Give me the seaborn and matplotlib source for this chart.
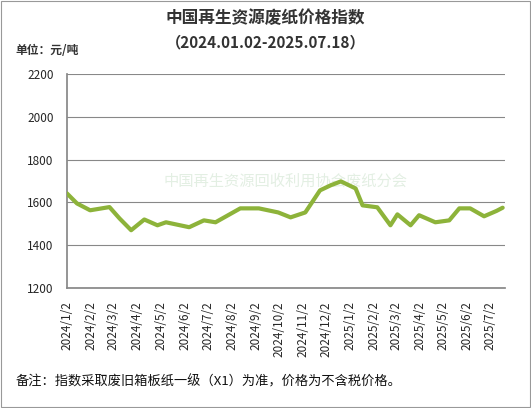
import pandas as pd
import numpy as np
import matplotlib.pyplot as plt
import seaborn as sns

dates = ["2024-01-02", "2024-01-15", "2024-02-01", "2024-02-26", "2024-03-10", "2024-03-25",
         "2024-04-11", "2024-04-28", "2024-05-09", "2024-06-08", "2024-06-27", "2024-07-12",
         "2024-08-13", "2024-09-06", "2024-10-01", "2024-10-17", "2024-11-05", "2024-11-24",
         "2024-12-08", "2024-12-21", "2025-01-09", "2025-01-18", "2025-02-06", "2025-02-23",
         "2025-03-04", "2025-03-21", "2025-04-01", "2025-04-22", "2025-05-10", "2025-05-23",
         "2025-06-06", "2025-06-24", "2025-07-10", "2025-07-18"]
values = [1642, 1595, 1563, 1578, 1525, 1470, 1520, 1493, 1507, 1484, 1516, 1507,
          1572, 1572, 1553, 1530, 1553, 1656, 1680, 1698, 1665, 1586, 1577, 1493,
          1544, 1493, 1540, 1507, 1516, 1572, 1572, 1535, 1560, 1575]
tick_dates = [pd.Timestamp(y, m, 2) for y in (2024, 2025) for m in range(1, 13)][:19]
tick_labels = [f"{d.year}/{d.month}/2" for d in tick_dates]

df = pd.DataFrame({"date": pd.to_datetime(dates), "value": values})

sns.set_theme(style="white")
plt.rcParams['font.family'] = ['Noto Sans CJK SC', 'DejaVu Sans']

fig = plt.figure(figsize=(5.31, 4.08), dpi=100)
ax = fig.add_axes([0.126, 0.294, 0.825, 0.525])
sns.lineplot(data=df, x="date", y="value", ax=ax, color="#8db33a", linewidth=3, zorder=3)

ax.set_ylim(1200, 2200)
ax.set_yticks(range(1200, 2201, 200))
ax.set_xlim(pd.Timestamp("2024-01-02"), pd.Timestamp("2025-07-21"))
ax.set_xticks(tick_dates)
ax.set_xticklabels(tick_labels, rotation=90, fontsize=8.5)
ax.tick_params(axis="y", labelsize=8.5)
ax.set_xlabel("")
ax.set_ylabel("")
ax.grid(axis="y", color="#888888", linewidth=0.8)
for s in ["top", "right"]:
    ax.spines[s].set_visible(False)
for s in ["left", "bottom"]:
    ax.spines[s].set_color("#888888")

# faint watermark behind the line
ax.text(0.5, 0.5, "中国再生资源回收利用协会废纸分会", transform=ax.transAxes,
        ha="center", va="center", fontsize=11, color="#e3efe3", zorder=0)

fig.text(0.5, 0.955, "中国再生资源废纸价格指数", ha="center", va="center",
         fontsize=12, fontweight="bold", color="#333333")
fig.text(0.5, 0.895, "（2024.01.02-2025.07.18）", ha="center", va="center",
         fontsize=11, fontweight="bold", color="#333333")
fig.text(0.03, 0.875, "单位：元/吨", ha="left", va="center",
         fontsize=8.5, fontweight="bold", color="#333333")
fig.text(0.03, 0.065, "备注：指数采取废旧箱板纸一级（X1）为准，价格为不含税价格。",
         ha="left", va="center", fontsize=9.5, color="#111111")

fig.patches.append(plt.Rectangle((0.002, 0.002), 0.996, 0.996, transform=fig.transFigure,
                                 fill=False, edgecolor="#999999", linewidth=0.8))

fig.savefig("out.png", dpi=100)
